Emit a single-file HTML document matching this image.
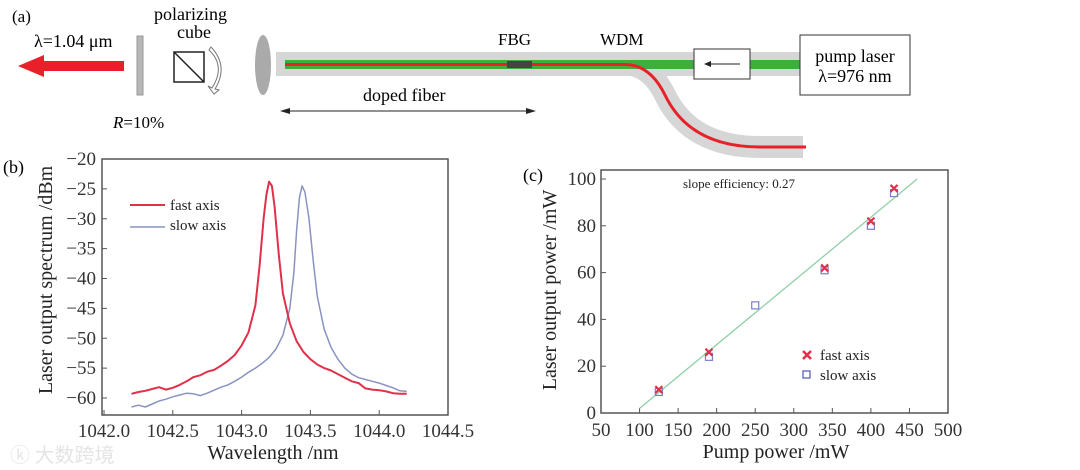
<!DOCTYPE html>
<html><head><meta charset="utf-8">
<style>
html,body{margin:0;padding:0;background:#fff;}
svg{display:block;font-family:"Liberation Serif","Noto Serif CJK SC",serif;}
</style></head>
<body>
<svg id="fig" width="1080" height="470" viewBox="0 0 1080 470">
<g>
  <text x="12" y="22" font-size="17">(a)</text>
  <text x="34" y="47" font-size="18">λ=1.04 μm</text>
  <polygon points="18,66 44,55 44,61 124,61 124,71 44,71 44,77" fill="#e8202a"/>
  <rect x="137" y="36" width="6" height="59" fill="#b8b8b8" stroke="#999"/>
  <text x="113" y="128" font-size="17"><tspan font-style="italic">R</tspan>=10%</text>
  <text x="154" y="20" font-size="18">polarizing</text>
  <text x="177" y="38" font-size="18">cube</text>
  <rect x="174" y="52" width="30" height="30" fill="none" stroke="#222" stroke-width="1.5"/>
  <line x1="174" y1="52" x2="204" y2="82" stroke="#222" stroke-width="1.5"/>
  <path d="M209,50 Q226,66 212,88 L208,86 L214,94 L219,90 L215,89 Q229,66 211,47 Z" fill="#fff" stroke="#777"/>
  <ellipse cx="263" cy="65" rx="8" ry="30" fill="#aaa"/>
  <g>
    <path d="M276,64 L800,64" stroke="#d6d6d6" stroke-width="24" fill="none"/>
    <path d="M600,64.5 L625,64.5 Q650,64.5 665,95 Q690,147 760,147 L803,147" fill="none" stroke="#d6d6d6" stroke-width="22"/>
  </g>
  <rect x="285" y="60" width="515" height="9" fill="#3fae3f"/>
  <path d="M285,64.5 L625,64.5 Q650,64.5 665,95 Q690,147 760,147 L806,147" fill="none" stroke="#e8202a" stroke-width="3"/>
  <rect x="507" y="61" width="25" height="7" fill="#444"/>
  <text x="498" y="45" font-size="17">FBG</text>
  <text x="600" y="45" font-size="17">WDM</text>
  <rect x="694" y="49" width="56" height="30" fill="#fff" stroke="#333"/>
  <line x1="708" y1="64" x2="740" y2="64" stroke="#222"/><polygon points="704,64 711,61 711,67" fill="#222"/>
  <rect x="800" y="35" width="110" height="60" fill="#fff" stroke="#333"/>
  <text x="855" y="62" font-size="18" text-anchor="middle">pump laser</text>
  <text x="855" y="82" font-size="18" text-anchor="middle">λ=976 nm</text>
  <line x1="284" y1="111" x2="532" y2="111" stroke="#222"/>
  <polygon points="280,111 290,108 290,114" fill="#222"/><polygon points="536,111 526,108 526,114" fill="#222"/>
  <text x="363" y="101" font-size="18">doped fiber</text>
</g>
<g id="chartB"></g>
<g id="chartC"></g>
<text x="10" y="462" font-size="20" fill="#e4e4e4" font-family="'Noto Sans CJK SC',sans-serif">ⓚ 大数跨境</text>
</svg>
<script>
const specWl = [1042.2,1042.25,1042.3,1042.35,1042.4,1042.45,1042.5,1042.55,1042.6,1042.65,1042.7,1042.75,1042.8,1042.85,1042.9,1042.95,1043.0,1043.05,1043.1,1043.13,1043.16,1043.18,1043.2,1043.22,1043.24,1043.27,1043.3,1043.35,1043.4,1043.45,1043.5,1043.55,1043.6,1043.65,1043.7,1043.75,1043.8,1043.85,1043.9,1043.95,1044.0,1044.05,1044.1,1044.15,1044.2];
const fastSpec = [-59.3,-59,-58.8,-58.5,-58.2,-58.6,-58.3,-57.8,-57.2,-56.5,-56.2,-55.6,-55.3,-54.6,-53.8,-52.8,-51.2,-49,-44.5,-38,-30,-26,-23.8,-24.5,-28,-36,-42.5,-47.5,-50.5,-52.3,-53.5,-54.4,-55,-55.4,-56,-56.6,-57.2,-57.5,-58.4,-58.6,-58.7,-58.9,-59.2,-59.3,-59.3];
const slowWl = [1042.2,1042.25,1042.3,1042.35,1042.4,1042.45,1042.5,1042.55,1042.6,1042.65,1042.7,1042.75,1042.8,1042.85,1042.9,1042.95,1043.0,1043.05,1043.1,1043.15,1043.2,1043.25,1043.3,1043.35,1043.38,1043.4,1043.42,1043.44,1043.46,1043.49,1043.52,1043.55,1043.6,1043.65,1043.7,1043.75,1043.8,1043.85,1043.9,1043.95,1044.0,1044.05,1044.1,1044.15,1044.2];
const slowSpec = [-61.5,-61.2,-61.5,-61,-60.5,-60.2,-59.8,-59.5,-59.2,-59.3,-59.6,-59.2,-58.7,-58.2,-57.8,-57.2,-56.5,-55.7,-55,-54.2,-53.2,-51.8,-49.5,-45,-39,-32,-26.5,-24.5,-25.5,-30,-37,-43,-48.5,-51.5,-53.5,-55,-56,-56.6,-56.9,-57.2,-57.5,-57.9,-58.3,-58.8,-58.9];
const bXTicks = [1042.0,1042.5,1043.0,1043.5,1044.0,1044.5];
const bYTicks = [-20,-25,-30,-35,-40,-45,-50,-55,-60];
const pumpFast = [125,190,340,400,430];
const outFast = [10,26,62,82,96];
const pumpSlow = [125,190,250,340,400,430];
const outSlow = [9,24,46,61,80,94];
const fitX = [100,460];
const fitY = [2,100];
const cXTicks = [50,100,150,200,250,300,350,400,450,500];
const cYTicks = [0,20,40,60,80,100];

const NS='http://www.w3.org/2000/svg';
function mk(parent,tag,attrs,text){const e=document.createElementNS(NS,tag);for(const k in attrs)e.setAttribute(k,attrs[k]);if(text!==undefined)e.textContent=text;parent.appendChild(e);return e;}

// Chart B
const gB=document.getElementById('chartB');
const bx=v=>104+(v-1042)*(344/2.5);
const by=v=>159+(-20-v)*(239/40);
let e;
e=mk(gB,'rect',{x:102,y:159,width:346,height:256,fill:'none',stroke:'#555','stroke-width':1.5});


bXTicks.forEach(t=>{
  mk(gB,'line',{x1:bx(t),y1:415,x2:bx(t),y2:410,stroke:'#555'});
  e=mk(gB,'text',{x:bx(t),y:437,'font-size':19,'text-anchor':'middle',fill:'#333'},t.toFixed(1));
  
  
});
bYTicks.forEach(t=>{
  mk(gB,'line',{x1:102,y1:by(t),x2:107,y2:by(t),stroke:'#555'});
  e=mk(gB,'text',{x:96,y:by(t)+6,'font-size':19,'text-anchor':'end',fill:'#333'},'−'+Math.abs(t));
  
  
});
e=mk(gB,'path',{d:slowWl.map((w,i)=>(i?'L':'M')+bx(w).toFixed(1)+','+by(slowSpec[i]).toFixed(1)).join(''),fill:'none',stroke:'#8a93c0','stroke-width':1.5,'stroke-linejoin':'round'});


e=mk(gB,'path',{d:specWl.map((w,i)=>(i?'L':'M')+bx(w).toFixed(1)+','+by(fastSpec[i]).toFixed(1)).join(''),fill:'none',stroke:'#e0304a','stroke-width':2,'stroke-linejoin':'round'});


mk(gB,'line',{x1:130,y1:205,x2:165,y2:205,stroke:'#e0304a','stroke-width':2});
e=mk(gB,'text',{x:170,y:210,'font-size':15,fill:'#222'},'fast axis');


mk(gB,'line',{x1:130,y1:227,x2:165,y2:227,stroke:'#8a93c0','stroke-width':1.5});
e=mk(gB,'text',{x:170,y:230,'font-size':15,fill:'#222'},'slow axis');


e=mk(gB,'text',{x:3,y:173,'font-size':18},'(b)');


e=mk(gB,'text',{x:273,y:459,'font-size':20,'text-anchor':'middle',fill:'#222'},'Wavelength /nm');


e=mk(gB,'text',{x:0,y:0,'font-size':20,'text-anchor':'middle',fill:'#222',transform:'translate(52,280) rotate(-90)'},'Laser output spectrum /dBm');



// Chart C
const gC=document.getElementById('chartC');
const cx=v=>601+(v-50)*(347/450);
const cy=v=>413-v*(234/100);
e=mk(gC,'rect',{x:601,y:170,width:347,height:243,fill:'none',stroke:'#555','stroke-width':1.5});


cXTicks.forEach(t=>{
  mk(gC,'line',{x1:cx(t),y1:413,x2:cx(t),y2:408,stroke:'#555'});
  e=mk(gC,'text',{x:cx(t),y:436,'font-size':19,'text-anchor':'middle',fill:'#333'},t);
  
  
});
cYTicks.forEach(t=>{
  mk(gC,'line',{x1:601,y1:cy(t),x2:606,y2:cy(t),stroke:'#555'});
  e=mk(gC,'text',{x:596,y:cy(t)+6,'font-size':19,'text-anchor':'end',fill:'#333'},t);
  
  
});
e=mk(gC,'line',{x1:cx(fitX[0]),y1:cy(fitY[0]),x2:cx(fitX[1]),y2:cy(fitY[1]),stroke:'#8fcfa8','stroke-width':1.3});


pumpSlow.forEach((p,i)=>{
  e=mk(gC,'rect',{x:cx(p)-3.5,y:cy(outSlow[i])-3.5,width:7,height:7,fill:'none',stroke:'#7a7fc8','stroke-width':1.2});
  
  
});
pumpFast.forEach((p,i)=>{
  const X=cx(p),Y=cy(outFast[i]);
  e=mk(gC,'path',{d:`M${X-3.5},${Y-3.5}L${X+3.5},${Y+3.5}M${X+3.5},${Y-3.5}L${X-3.5},${Y+3.5}`,stroke:'#e0304a','stroke-width':2.2});
  
  
});
mk(gC,'path',{d:'M803,351L811,359M811,351L803,359',stroke:'#e0304a','stroke-width':2.5});
e=mk(gC,'text',{x:820,y:360,'font-size':15,fill:'#222'},'fast axis');


mk(gC,'rect',{x:803,y:371,width:7,height:7,fill:'none',stroke:'#5a60c0','stroke-width':1.3});
e=mk(gC,'text',{x:820,y:380,'font-size':15,fill:'#222'},'slow axis');


e=mk(gC,'text',{x:683,y:188,'font-size':13,fill:'#222'},'slope efficiency: 0.27');


e=mk(gC,'text',{x:523,y:181,'font-size':18},'(c)');


e=mk(gC,'text',{x:776,y:458,'font-size':20,'text-anchor':'middle',fill:'#222'},'Pump power /mW');


e=mk(gC,'text',{x:0,y:0,'font-size':20,'text-anchor':'middle',fill:'#222',transform:'translate(556,290) rotate(-90)'},'Laser output power /mW');


</script>
</body></html>
